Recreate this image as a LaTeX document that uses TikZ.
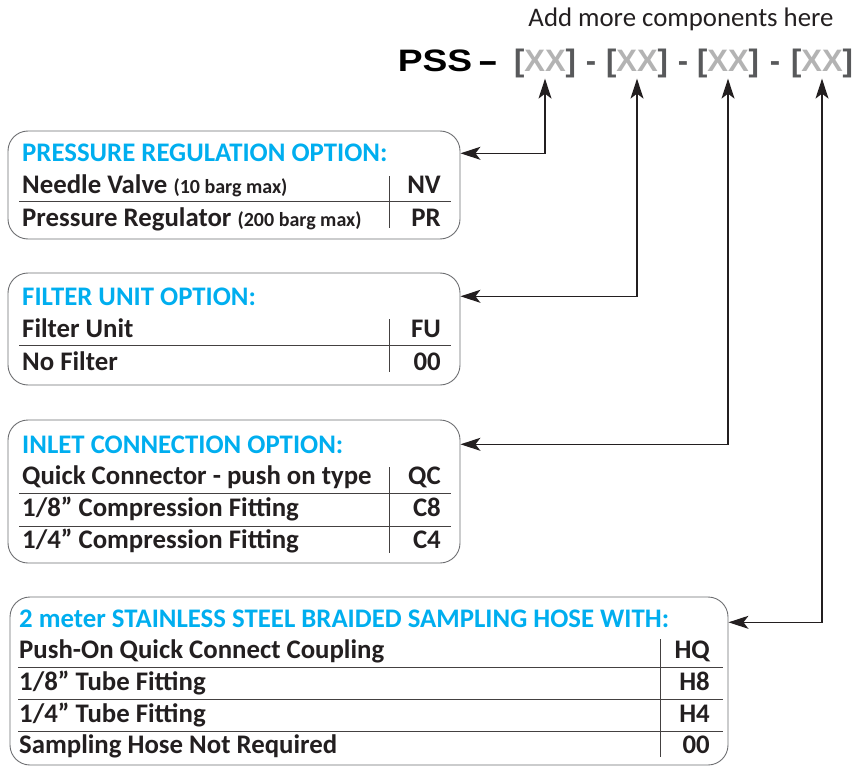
\documentclass[tikz,border=0pt]{standalone}
\usepackage{fontspec}
\setmainfont{Carlito}
\newfontfamily\headfont{Liberation Sans}
\usetikzlibrary{arrows.meta}

\definecolor{optblue}{HTML}{00AEEF}
\definecolor{ink}{HTML}{231F20}
\definecolor{xxgray}{HTML}{B3B3B3}
\definecolor{brkgray}{HTML}{58595B}
\definecolor{edgegray}{HTML}{6D6E71}

\newcommand{\xxpart}{\textcolor{brkgray}{[}\textcolor{xxgray}{XX}\textcolor{brkgray}{]}}
\newcommand{\smallnote}{\fontsize{20}{22}\selectfont}

\tikzset{
  optbox/.style={draw=edgegray, line width=0.9pt, rounded corners=20pt, inner sep=0pt},
  optitle/.style={anchor=base west, inner sep=0pt, text=optblue, font=\fontsize{26.8}{30}\selectfont\bfseries},
  item/.style={anchor=base west, inner sep=0pt, text=ink, font=\fontsize{26.8}{30}\selectfont\bfseries},
  code/.style={anchor=base east, inner sep=0pt, text=ink, font=\fontsize{26.8}{30}\selectfont\bfseries},
  head/.style={anchor=base, inner sep=0pt, font=\headfont\fontsize{31}{34}\selectfont\bfseries},
  rowrule/.style={draw=ink!85, line width=1pt},
  arr/.style={draw=ink, line width=1.3pt, arrows={Stealth[length=20pt,width=13pt,inset=5pt]-Stealth[length=20pt,width=13pt,inset=5pt]}}
}

\begin{document}
\begin{tikzpicture}[x=1pt, y=-1pt]
  \useasboundingbox (0,0) rectangle (853,767);

  % part number
  \node[anchor=base, inner sep=0pt, text=ink, font=\fontsize{26.8}{30}\selectfont] (more) at (681,27) {Add more components here};
  \node[head, text=black] (pss) at (435,72) {\scalebox{1.2}[1]{PSS}};
  \node[head, text=black] (d0) at (488,72) {\scalebox{2}[1]{-}};
  \node[head] (xx1) at (545,72) {\xxpart};
  \node[head, text=brkgray] (d1) at (591,72) {-};
  \node[head] (xx2) at (637,72) {\xxpart};
  \node[head, text=brkgray] (d2) at (683,72) {-};
  \node[head] (xx3) at (728,72) {\xxpart};
  \node[head, text=brkgray] (d3) at (775,72) {-};
  \node[head] (xx4) at (822,72) {\xxpart};

  % pressure regulation
  \node[optbox, minimum width=452pt, minimum height=108pt] (pr) at (234,185) {};
  \node[optitle] (prT) at (22,162) {PRESSURE REGULATION OPTION:};
  \node[item] (prA) at (22,194) {Needle Valve {\smallnote(10 barg max)}};
  \node[code] (prAc) at (441,194) {NV};
  \node[item] (prB) at (22,226) {Pressure Regulator {\smallnote(200 barg max)}};
  \node[code] (prBc) at (441,226) {PR};
  \draw[rowrule] (19,202) -- (451,202);
  \draw[rowrule] (389,176) -- (389,228);

  % filter unit
  \node[optbox, minimum width=452pt, minimum height=112pt] (fu) at (234,329) {};
  \node[optitle] (fuT) at (22,305) {FILTER UNIT OPTION:};
  \node[item] (fuA) at (22,337) {Filter Unit};
  \node[code] (fuAc) at (441,337) {FU};
  \node[item] (fuB) at (22,370) {No Filter};
  \node[code] (fuBc) at (441,370) {00};
  \draw[rowrule] (19,345) -- (451,345);
  \draw[rowrule] (389,319) -- (389,372);

  % inlet connection
  \node[optbox, minimum width=452pt, minimum height=143pt] (ic) at (234,491.5) {};
  \node[optitle] (icT) at (22,453) {INLET CONNECTION OPTION:};
  \node[item] (icA) at (22,484) {Quick Connector - push on type};
  \node[code] (icAc) at (441,484) {QC};
  \node[item] (icB) at (22,516) {1/8” Compression Fitting};
  \node[code] (icBc) at (441,516) {C8};
  \node[item] (icC) at (22,548) {1/4” Compression Fitting};
  \node[code] (icCc) at (441,548) {C4};
  \draw[rowrule] (19,493) -- (451,493);
  \draw[rowrule] (19,526) -- (451,526);
  \draw[rowrule] (389,467) -- (389,553);

  % sampling hose
  \node[optbox, minimum width=718pt, minimum height=168pt] (sh) at (369,681) {};
  \node[optitle] (shT) at (19,627) {2 meter STAINLESS STEEL BRAIDED SAMPLING HOSE WITH:};
  \node[item] (shA) at (19,658) {Push-On Quick Connect Coupling};
  \node[code] (shAc) at (710,658) {HQ};
  \node[item] (shB) at (19,690) {1/8” Tube Fitting};
  \node[code] (shBc) at (710,690) {H8};
  \node[item] (shC) at (19,722) {1/4” Tube Fitting};
  \node[code] (shCc) at (710,722) {H4};
  \node[item] (shD) at (19,753) {Sampling Hose Not Required};
  \node[code] (shDc) at (710,753) {00};
  \draw[rowrule] (18,667) -- (723,667);
  \draw[rowrule] (18,699) -- (723,699);
  \draw[rowrule] (18,731) -- (723,731);
  \draw[rowrule] (660,639) -- (660,757);
  \coordinate (shTc) at ([yshift=-4pt]shT.west);

  % connectors
  \draw[arr] (pr.east |- prT) -| (xx1.south);
  \draw[arr] (fu.east |- fuT) -| (xx2.south);
  \draw[arr] (ic.east |- icT) -| (xx3.south);
  \draw[arr] (sh.east |- shTc) -| (xx4.south);
\end{tikzpicture}
\end{document}
